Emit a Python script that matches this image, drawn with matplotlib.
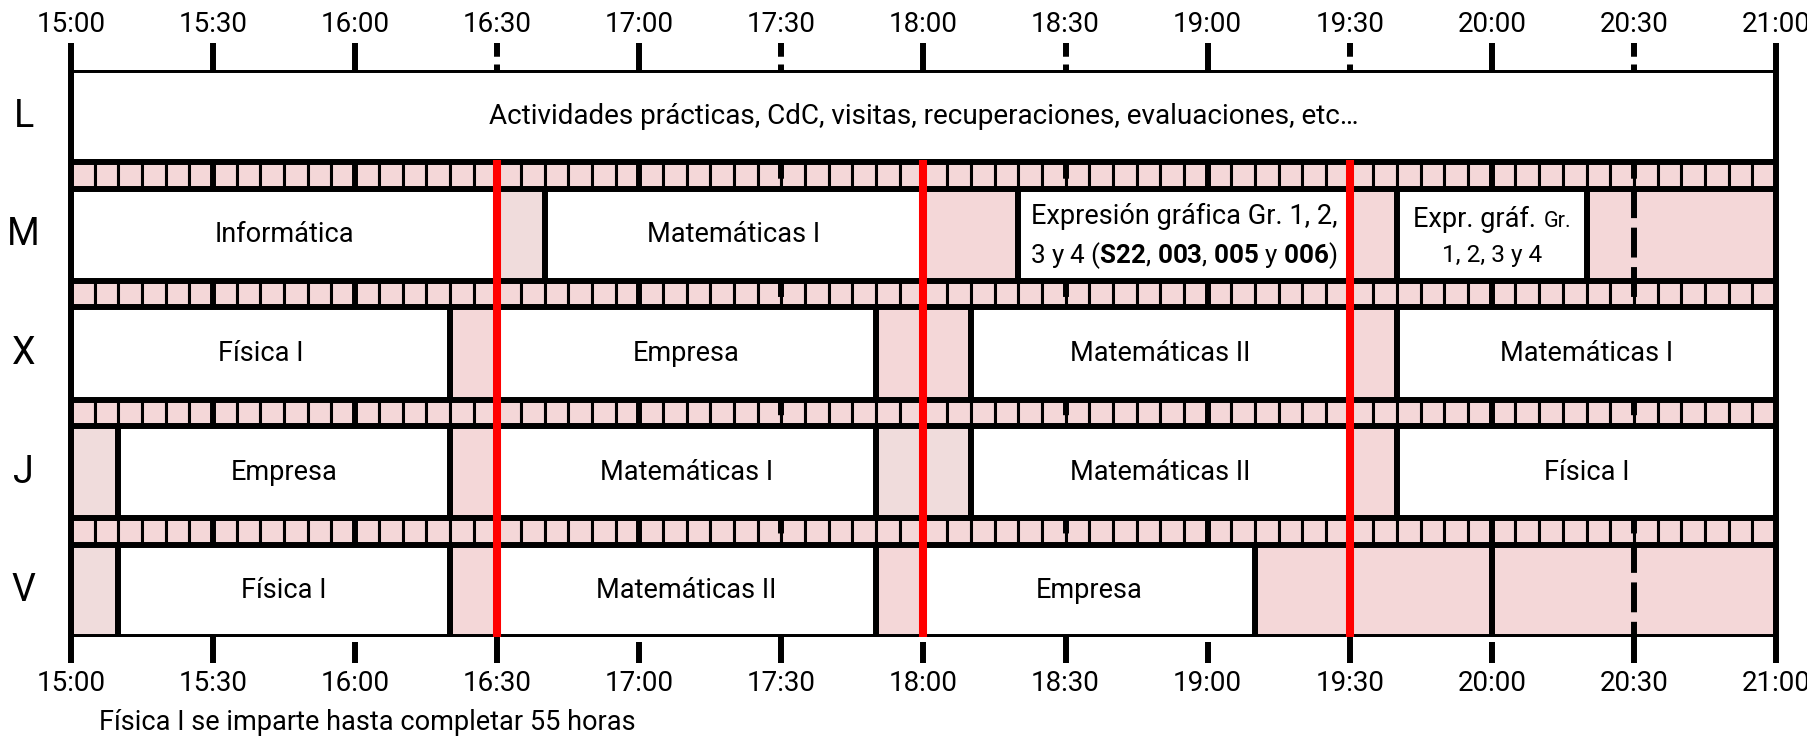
import matplotlib
matplotlib.use("Agg")
import matplotlib.pyplot as plt
import numpy as np

plt.rcParams['font.family'] = ['Roboto', 'DejaVu Sans']
plt.rcParams['mathtext.fontset'] = 'custom'
plt.rcParams['mathtext.rm'] = 'Roboto'
plt.rcParams['mathtext.bf'] = 'Roboto:bold'

# horario de tarde, bloques (inicio, fin, texto, relleno)
days = ['L', 'M', 'X', 'J', 'V']
lunes = [("15:00", "21:00", "Actividades prácticas, CdC, visitas, recuperaciones, evaluaciones, etc…", 'w')]
martes = [("15:00", "16:30", "Informática", 'w'),
          ("16:30", "16:40", None, 'q'),
          ("16:40", "18:00", "Matemáticas I", 'w'),
          ("18:00", "18:20", None, 'p'),
          ("18:20", "19:30", "EXPR1", 'w'),
          ("19:30", "19:40", None, 'p'),
          ("19:40", "20:20", "EXPR2", 'w'),
          ("20:20", "21:00", None, 'p')]
miercoles = [("15:00", "16:20", "Física I", 'w'),
             ("16:20", "16:30", None, 'p'),
             ("16:30", "17:50", "Empresa", 'w'),
             ("17:50", "18:10", None, 'p'),
             ("18:10", "19:30", "Matemáticas II", 'w'),
             ("19:30", "19:40", None, 'p'),
             ("19:40", "21:00", "Matemáticas I", 'w')]
jueves = [("15:00", "15:10", None, 'q'),
          ("15:10", "16:20", "Empresa", 'w'),
          ("16:20", "16:30", None, 'p'),
          ("16:30", "17:50", "Matemáticas I", 'w'),
          ("17:50", "18:10", None, 'q'),
          ("18:10", "19:30", "Matemáticas II", 'w'),
          ("19:30", "19:40", None, 'p'),
          ("19:40", "21:00", "Física I", 'w')]
viernes = [("15:00", "15:10", None, 'q'),
           ("15:10", "16:20", "Física I", 'w'),
           ("16:20", "16:30", None, 'p'),
           ("16:30", "17:50", "Matemáticas II", 'w'),
           ("17:50", "18:00", None, 'p'),
           ("18:00", "19:10", "Empresa", 'w'),
           ("19:10", "20:00", None, 'p'),
           ("20:00", "21:00", None, 'p')]
schedule = [lunes, martes, miercoles, jueves, viernes]

tick_labels = ['15:00', '15:30', '16:00', '16:30', '17:00', '17:30', '18:00',
               '18:30', '19:00', '19:30', '20:00', '20:30', '21:00']
red_marks = ['16:30', '18:00', '19:30']
footnote = "Física I se imparte hasta completar 55 horas"

fills = {'w': 'white', 'p': '#F4D7D8', 'q': '#F0DCDC'}


def mins(t):
    h, m = t.split(':')
    return (int(h) - 15) * 60 + int(m)


ROW = 1.0
GAP = 0.285
LW = 4.3
FS = 19.5
FS_TICK = 20

fig = plt.figure(figsize=(18.08, 7.36), dpi=100)
ax = fig.add_axes([0.03927, 0.1345, 0.9430, 0.7704])
total = 5 * ROW + 4 * GAP
ax.set_xlim(0, 360)
ax.set_ylim(total, 0)
ax.axis('off')

row_top = [i * (ROW + GAP) for i in range(5)]

# bandas de cuadritos entre dias
cells = np.arange(0, 360, 5)
for i in range(4):
    y0 = row_top[i] + ROW
    ax.bar(cells, GAP, width=5, bottom=y0, align='edge', color=fills['p'],
           edgecolor='black', linewidth=2.2, zorder=1)

# lineas de media hora (ticks arriba/abajo + guia por detras)
ticks = [mins(t) for t in tick_labels]
for t in ticks[1:-1]:
    solid = (t % 60 == 0) or t == 30
    ax.vlines(t, -0.29, 0, color='black', lw=LW, zorder=2, clip_on=False,
              linestyles='solid' if solid else (0, (2.3, 1.3)), capstyle='butt')
    ax.vlines(t, 0, total, color='black', lw=LW, zorder=2, clip_on=False,
              linestyles='solid' if solid else (0, (5, 1.6)), capstyle='butt')
    gap0 = 0.05 if t % 60 == 0 else 0.0
    ax.vlines(t, total + gap0, total + 0.28, color='black', lw=LW, zorder=2,
              clip_on=False)
ax.vlines([ticks[0], ticks[-1]], -0.29, total + 0.28, color='black', lw=LW,
          zorder=4, clip_on=False)

for i, day in enumerate(days):
    y0 = row_top[i]
    for start, end, label, fill in schedule[i]:
        s, e = mins(start), mins(end)
        z = 3 if fill == 'w' else 1.5
        ax.bar(s, ROW, width=e - s, bottom=y0, align='edge', color=fills[fill],
               edgecolor='black', linewidth=LW, zorder=z)
        xc = (s + e) / 2
        if label == "EXPR1":
            ax.text(xc, y0 + 0.38, "Expresión gráfica Gr. 1, 2,", ha='center',
                    va='baseline', fontsize=FS, zorder=7)
            ax.text(xc, y0 + 0.80,
                    r"3 y 4 ($\mathbf{S22}$, $\mathbf{003}$, $\mathbf{005}$ y $\mathbf{006}$)",
                    ha='center', va='baseline', fontsize=FS * 0.96, zorder=7)
        elif label == "EXPR2":
            ax.text(xc + 9.3, y0 + 0.41, "Expr. gráf.", ha='right', va='baseline',
                    fontsize=FS, zorder=7)
            ax.text(xc + 11, y0 + 0.41, "Gr.", ha='left', va='baseline',
                    fontsize=FS * 0.8, zorder=7)
            ax.text(xc, y0 + 0.79, "1, 2, 3 y 4", ha='center', va='baseline',
                    fontsize=FS * 0.9, zorder=7)
        elif label:
            ax.text(xc, y0 + ROW / 2, label, ha='center', va='center',
                    fontsize=FS * (1.03 if i == 0 else 1), zorder=7)
    ax.text(-10, y0 + ROW / 2, day, ha='center', va='center', fontsize=27,
            clip_on=False)

ax.vlines([mins(t) for t in red_marks], ROW - 0.03, total, color='#FF0000',
          lw=5.8, zorder=6)

for t, lab in zip(ticks, tick_labels):
    ax.text(t, -0.49, lab, ha='center', va='center', fontsize=FS_TICK, clip_on=False)
    ax.text(t, total + 0.50, lab, ha='center', va='center', fontsize=FS_TICK,
            clip_on=False)

ax.text(6, total + 0.93, footnote, ha='left', va='center', fontsize=FS, clip_on=False)

fig.savefig('out.png', dpi=100)
